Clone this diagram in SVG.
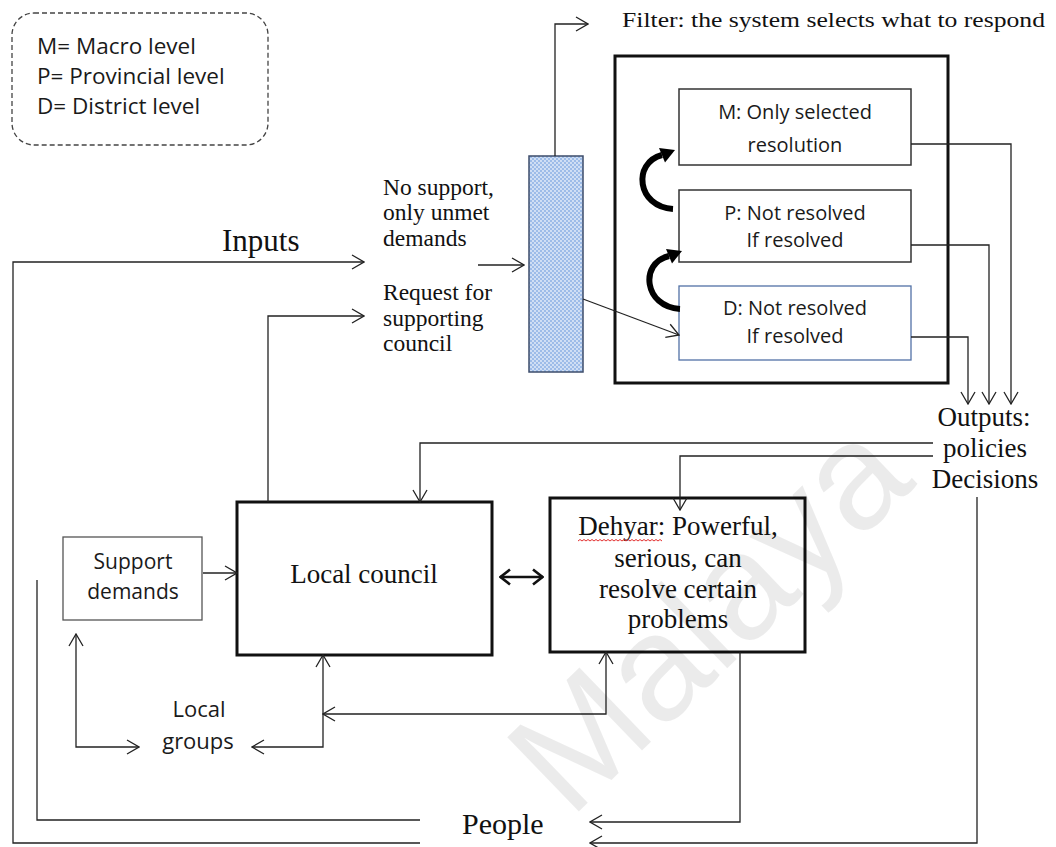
<svg xmlns="http://www.w3.org/2000/svg" width="1056" height="847" viewBox="0 0 1056 847">
  <style>
    .sans { font-family: "Open Sans", "Liberation Sans", sans-serif; fill: #1a1a1a; }
    .serif { font-family: "Liberation Serif", "Times New Roman", serif; fill: #111; }
    .line { fill: none; stroke: #222; stroke-width: 1.3; }
    .box { fill: #fff; stroke: #333; stroke-width: 1.5; }
    .heavy { fill: #fff; stroke: #111; stroke-width: 3; }
    .mark { fill: #000; fill-opacity: 0.08; font-family: "Liberation Sans", Arial, sans-serif; }
  </style>
  <defs>
    <marker id="open" viewBox="0 0 14 16" refX="13" refY="8" markerWidth="14" markerHeight="16" orient="auto-start-reverse" markerUnits="userSpaceOnUse">
      <path d="M1,1 L13,8 L1,15" fill="none" stroke="#222" stroke-width="1.3"/>
    </marker>
    <marker id="bold" viewBox="0 0 12 18" refX="11" refY="9" markerWidth="12" markerHeight="18" orient="auto-start-reverse" markerUnits="userSpaceOnUse">
      <path d="M1,1.5 L10.5,9 L1,16.5" fill="none" stroke="#111" stroke-width="2.6"/>
    </marker>
    <pattern id="dots" width="4" height="4" patternUnits="userSpaceOnUse">
      <rect width="4" height="4" fill="#9dbce8"/>
      <circle cx="1" cy="1" r="0.9" fill="#e8f0fb"/>
      <circle cx="3" cy="3" r="0.9" fill="#e8f0fb"/>
    </pattern>
  </defs>

  <rect width="1056" height="847" fill="#fff"/>

  <!-- legend -->
  <g id="legend">
    <rect x="12" y="13" width="256" height="132" rx="22" fill="none" stroke="#444" stroke-width="1.3" stroke-dasharray="5 3"/>
    <text class="sans" x="37" y="54" font-size="22.5">M= Macro level</text>
    <text class="sans" x="37" y="84" font-size="22.5">P= Provincial level</text>
    <text class="sans" x="37" y="114" font-size="22.5">D= District level</text>
  </g>

  <!-- labels on flows -->
  <g id="inputs-label">
    <text class="serif" x="222" y="251" font-size="31">Inputs</text>
  </g>
  <g id="no-support">
    <text class="serif" x="383" y="195" font-size="23.5">No support,</text>
    <text class="serif" x="383" y="220" font-size="23.5">only unmet</text>
    <text class="serif" x="383" y="246" font-size="23.5">demands</text>
  </g>
  <g id="request">
    <text class="serif" x="383" y="300" font-size="23.5">Request for</text>
    <text class="serif" x="383" y="326" font-size="23.5">supporting</text>
    <text class="serif" x="383" y="351" font-size="23.5">council</text>
  </g>
  <g id="filter-label">
    <text class="serif" x="622" y="27" font-size="22" textLength="423" lengthAdjust="spacingAndGlyphs">Filter: the system selects what to respond</text>
  </g>

  <!-- filter -->
  <g id="filter">
    <rect x="529" y="156" width="54" height="216" fill="url(#dots)" stroke="#3d4c6b" stroke-width="1.5"/>
  </g>

  <!-- system box with levels -->
  <g id="system">
    <rect x="615" y="56" width="333" height="327" fill="none" stroke="#111" stroke-width="3"/>
  </g>
  <g id="macro">
    <rect class="box" x="679" y="89" width="232" height="76"/>
    <text class="sans" x="795" y="119" font-size="20" text-anchor="middle">M: Only selected</text>
    <text class="sans" x="795" y="152" font-size="20" text-anchor="middle">resolution</text>
  </g>
  <g id="provincial">
    <rect class="box" x="679" y="190" width="232" height="72"/>
    <text class="sans" x="795" y="220" font-size="20" text-anchor="middle">P: Not resolved</text>
    <text class="sans" x="795" y="247" font-size="20" text-anchor="middle">If resolved</text>
  </g>
  <g id="district">
    <rect x="679" y="286" width="232" height="74" fill="#fff" stroke="#5271a6" stroke-width="1.3"/>
    <text class="sans" x="795" y="315" font-size="20" text-anchor="middle">D: Not resolved</text>
    <text class="sans" x="795" y="343" font-size="20" text-anchor="middle">If resolved</text>
  </g>

  <!-- outputs -->
  <g id="outputs">
    <text class="serif" x="984" y="426" font-size="27" text-anchor="middle">Outputs:</text>
    <text class="serif" x="985" y="457" font-size="27" text-anchor="middle">policies</text>
    <text class="serif" x="985" y="488" font-size="27" text-anchor="middle">Decisions</text>
  </g>

  <!-- local level -->
  <g id="support-demands">
    <rect x="63" y="537" width="139" height="83" fill="#fff" stroke="#555" stroke-width="1.3"/>
    <text class="sans" x="133" y="569" font-size="21" text-anchor="middle">Support</text>
    <text class="sans" x="133" y="599" font-size="21" text-anchor="middle">demands</text>
  </g>
  <g id="local-council">
    <rect class="heavy" x="237" y="502" width="255" height="153"/>
    <text class="serif" x="364" y="583" font-size="27" text-anchor="middle">Local council</text>
  </g>
  <g id="dehyar">
    <rect class="heavy" x="550" y="498" width="255" height="154"/>
    <text class="serif" x="678" y="535" font-size="27" text-anchor="middle">Dehyar: Powerful,</text>
    <text class="serif" x="678" y="567" font-size="27" text-anchor="middle">serious, can</text>
    <text class="serif" x="678" y="598" font-size="27" text-anchor="middle">resolve certain</text>
    <text class="serif" x="678" y="628" font-size="27" text-anchor="middle">problems</text>
    <path d="M578 541 l2-1.5 2 1.5 2-1.5 2 1.5 2-1.5 2 1.5 2-1.5 2 1.5 2-1.5 2 1.5 2-1.5 2 1.5 2-1.5 2 1.5 2-1.5 2 1.5 2-1.5 2 1.5 2-1.5 2 1.5 2-1.5 2 1.5 2-1.5 2 1.5 2-1.5 2 1.5 2-1.5 2 1.5 2-1.5 2 1.5 2-1.5 2 1.5 2-1.5 2 1.5 2-1.5 2 1.5 2-1.5 2 1.5 2-1.5 2 1.5 2-1.5 2 1.5" fill="none" stroke="#e23030" stroke-width="1"/>
  </g>
  <g id="local-groups">
    <text class="sans" x="199" y="717" font-size="22" text-anchor="middle">Local</text>
    <text class="sans" x="198" y="749" font-size="22" text-anchor="middle">groups</text>
  </g>
  <g id="people">
    <text class="serif" x="462" y="834" font-size="30">People</text>
  </g>

  <!-- connectors -->
  <g id="connectors">
    <path class="line" d="M420 843 H13 V262 H364" marker-end="url(#open)"/>
    <path class="line" d="M420 820 H37 V580"/>
    <path class="line" d="M268 502 V316 H364" marker-end="url(#open)"/>
    <path class="line" d="M478 265 H524" marker-end="url(#open)"/>
    <path class="line" d="M555 156 V24 H588" marker-end="url(#open)"/>
    <path class="line" d="M583 299 L679 335" marker-end="url(#open)"/>
    <path class="line" d="M911 144 H1011 V404" marker-end="url(#open)"/>
    <path class="line" d="M911 245 H989 V404" marker-end="url(#open)"/>
    <path class="line" d="M911 337 H968 V404" marker-end="url(#open)"/>
    <path class="line" d="M933 443 H420 V502" marker-end="url(#open)"/>
    <path class="line" d="M933 456 H680 V510" marker-end="url(#open)"/>
    <path class="line" d="M203 573 H237" marker-end="url(#open)"/>
    <path d="M500 577 H543" fill="none" stroke="#111" stroke-width="2.6" marker-start="url(#bold)" marker-end="url(#bold)"/>
    <path class="line" d="M252 747 H323 V655" marker-start="url(#open)" marker-end="url(#open)"/>
    <path class="line" d="M76 634 V747 H139" marker-start="url(#open)" marker-end="url(#open)"/>
    <path class="line" d="M323 714 H606 V652" marker-start="url(#open)" marker-end="url(#open)"/>
    <path class="line" d="M740 652 V822 H590" marker-end="url(#open)"/>
    <path class="line" d="M977 497 V843 H590" marker-end="url(#open)"/>
    <!-- escalation arrows between levels -->
    <path d="M673 209 C637 207 632 163 662 155" fill="none" stroke="#000" stroke-width="6"/>
    <polygon points="675,150 665,162.5 659,148" fill="#000"/>
    <path d="M680 309 C644 307 639 263 669 256" fill="none" stroke="#000" stroke-width="6"/>
    <polygon points="682,251 672,263.5 666,249" fill="#000"/>
  </g>

  <!-- translucent stamp over the page -->
  <text class="mark" x="570" y="820" font-size="150" transform="rotate(-44 570 820)">Malaya</text>
</svg>
